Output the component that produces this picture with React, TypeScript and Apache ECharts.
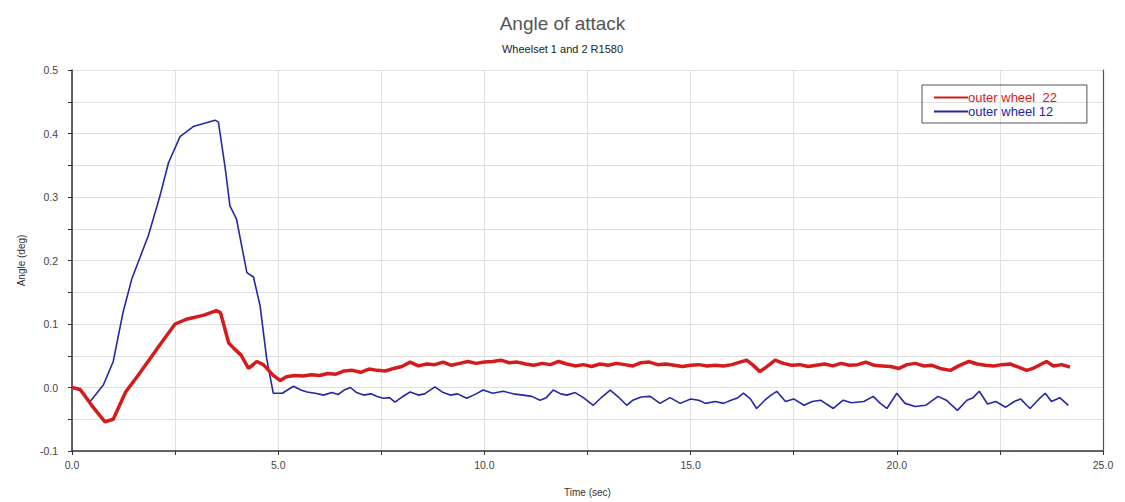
import React, { useEffect, useRef } from "react";
import * as echarts from "echarts";

// Outer wheel 22 — time (s) and angle of attack (deg)
const wheel22Time = [
  0, 0.2, 0.5, 0.8, 1.0, 1.3, 1.6, 1.9, 2.15, 2.5, 2.8, 3.2, 3.5, 3.6, 3.8, 3.92, 4.1, 4.28, 4.48, 4.64,
  4.88, 5.05, 5.2, 5.4, 5.6, 5.8, 6.0, 6.2, 6.4, 6.6, 6.8, 7.0, 7.2, 7.4, 7.6, 7.8, 8.0, 8.2, 8.4, 8.6,
  8.8, 9.0, 9.2, 9.4, 9.6, 9.8, 10.0, 10.2, 10.4, 10.6, 10.8, 11.0, 11.2, 11.4, 11.6, 11.8, 12.0, 12.2,
  12.4, 12.6, 12.8, 13.0, 13.2, 13.4, 13.6, 13.8, 14.0, 14.2, 14.4, 14.6, 14.8, 15.0, 15.2, 15.4, 15.6,
  15.8, 16.0, 16.2, 16.36, 16.5, 16.68, 16.85, 17.05, 17.25, 17.45, 17.65, 17.85, 18.05, 18.25, 18.45,
  18.65, 18.85, 19.05, 19.25, 19.45, 19.65, 19.85, 20.05, 20.25, 20.45, 20.65, 20.85, 21.05, 21.3, 21.5,
  21.75, 21.95, 22.15, 22.35, 22.55, 22.75, 22.95, 23.15, 23.3, 23.45, 23.63, 23.8, 24.0, 24.2,
];
const wheel22Angle = [
  0.0, -0.003, -0.03, -0.054, -0.05, -0.007, 0.019, 0.046, 0.069, 0.1, 0.108, 0.114, 0.121, 0.118, 0.07,
  0.062, 0.051, 0.03, 0.041, 0.036, 0.019, 0.011, 0.017, 0.019, 0.018, 0.02, 0.019, 0.022, 0.021, 0.026,
  0.027, 0.024, 0.029, 0.027, 0.026, 0.03, 0.033, 0.04, 0.034, 0.037, 0.036, 0.04, 0.035, 0.038, 0.041,
  0.038, 0.04, 0.041, 0.043, 0.039, 0.04, 0.037, 0.035, 0.038, 0.036, 0.041, 0.037, 0.034, 0.036, 0.033,
  0.037, 0.035, 0.038, 0.036, 0.034, 0.039, 0.04, 0.036, 0.037, 0.035, 0.033, 0.035, 0.036, 0.034, 0.035,
  0.034, 0.036, 0.04, 0.043, 0.036, 0.025, 0.033, 0.043, 0.038, 0.035, 0.036, 0.033, 0.035, 0.037, 0.034,
  0.038, 0.035, 0.036, 0.04, 0.035, 0.034, 0.033, 0.03, 0.036, 0.038, 0.034, 0.035, 0.03, 0.027, 0.034,
  0.041, 0.037, 0.035, 0.034, 0.036, 0.037, 0.032, 0.027, 0.03, 0.035, 0.041, 0.034, 0.036, 0.032,
];

// Outer wheel 12 — time (s) and angle of attack (deg)
const wheel12Time = [
  0, 0.2, 0.44, 0.76, 1.0, 1.24, 1.45, 1.85, 2.13, 2.34, 2.62, 2.94, 3.47, 3.55, 3.71, 3.83, 3.99, 4.24,
  4.4, 4.56, 4.72, 4.88, 5.1, 5.37, 5.55, 5.7, 5.9, 6.1, 6.3, 6.45, 6.6, 6.75, 6.9, 7.07, 7.25, 7.4, 7.55,
  7.7, 7.83, 8.0, 8.2, 8.4, 8.55, 8.8, 9.0, 9.17, 9.35, 9.57, 9.8, 9.97, 10.2, 10.46, 10.7, 10.94, 11.15,
  11.35, 11.5, 11.67, 11.85, 12.0, 12.2, 12.4, 12.64, 12.85, 13.05, 13.25, 13.45, 13.6, 13.8, 14.02,
  14.26, 14.5, 14.75, 15.0, 15.2, 15.36, 15.6, 15.8, 15.98, 16.15, 16.28, 16.45, 16.6, 16.8, 16.95,
  17.09, 17.3, 17.5, 17.75, 17.95, 18.15, 18.46, 18.7, 18.9, 19.2, 19.43, 19.6, 19.76, 20.0, 20.2, 20.45,
  20.7, 21.0, 21.2, 21.47, 21.7, 21.85, 22.0, 22.2, 22.4, 22.64, 22.85, 23.0, 23.23, 23.45, 23.6, 23.75,
  23.95, 24.16,
];
const wheel12Angle = [
  0.0, -0.005, -0.022, 0.004, 0.041, 0.119, 0.171, 0.239, 0.301, 0.354, 0.395, 0.411, 0.421, 0.418,
  0.348, 0.286, 0.265, 0.181, 0.174, 0.129, 0.046, -0.009, -0.009, 0.002, -0.004, -0.007, -0.009, -0.012,
  -0.008, -0.011, -0.004, 0.0, -0.008, -0.012, -0.01, -0.014, -0.017, -0.016, -0.023, -0.015, -0.007,
  -0.012, -0.01, 0.001, -0.008, -0.012, -0.01, -0.017, -0.01, -0.004, -0.009, -0.006, -0.01, -0.012,
  -0.014, -0.02, -0.016, -0.004, -0.01, -0.012, -0.008, -0.016, -0.028, -0.015, -0.004, -0.015, -0.028,
  -0.02, -0.015, -0.014, -0.025, -0.016, -0.025, -0.018, -0.02, -0.025, -0.022, -0.025, -0.02, -0.016,
  -0.009, -0.018, -0.033, -0.02, -0.012, -0.006, -0.022, -0.018, -0.028, -0.022, -0.02, -0.033, -0.02,
  -0.024, -0.022, -0.014, -0.025, -0.033, -0.009, -0.025, -0.03, -0.028, -0.014, -0.02, -0.036, -0.02,
  -0.016, -0.006, -0.026, -0.022, -0.031, -0.022, -0.018, -0.033, -0.018, -0.009, -0.022, -0.016, -0.028,
];

const seriesNames = ["outer wheel  22", "outer wheel 12"];
const seriesColors = ["#d41c1c", "#2626a6"];

const zip = (t: number[], v: number[]) => t.map((x, i) => [x, v[i]]);

const FONT = "'Liberation Sans', Arial, sans-serif";

export default function App() {
  const ref = useRef<HTMLDivElement>(null);

  useEffect(() => {
    if (!ref.current) return;
    const chart = echarts.init(ref.current, undefined, { renderer: "svg" });
    chart.setOption({
      animation: false,
      backgroundColor: "#ffffff",
      textStyle: { fontFamily: FONT },
      title: {
        text: "Angle of attack",
        subtext: "Wheelset 1 and 2 R1580",
        left: "center",
        top: 9,
        itemGap: 10,
        textStyle: { fontSize: 19, fontWeight: "normal", color: "#555555", fontFamily: FONT },
        subtextStyle: { fontSize: 11, color: "#222222", fontFamily: FONT },
      },
      legend: {
        orient: "vertical",
        left: 922,
        top: 85,
        padding: [6, 30, 5, 12],
        itemGap: 1,
        itemWidth: 34,
        itemHeight: 2,
        icon: "rect",
        borderColor: "#555555",
        borderWidth: 1,
        data: [
          { name: seriesNames[0], textStyle: { color: seriesColors[0] } },
          { name: seriesNames[1], textStyle: { color: seriesColors[1] } },
        ],
        textStyle: { fontSize: 13, fontFamily: FONT, padding: [0, 0, 0, -5] },
      },
      grid: { left: 72, right: 22, top: 70, bottom: 49 },
      xAxis: {
        type: "value",
        min: 0,
        max: 25,
        interval: 2.5,
        name: "Time (sec)",
        nameLocation: "middle",
        nameGap: 36,
        nameTextStyle: { fontSize: 10, color: "#333333" },
        axisLine: { onZero: false, lineStyle: { color: "#333333", width: 1.5 } },
        axisTick: { show: true, length: 4, lineStyle: { color: "#333333" } },
        axisLabel: {
          fontSize: 10.5,
          color: "#444444",
          margin: 8,
          formatter: (v: number) => (Math.abs(v % 5) < 1e-9 ? v.toFixed(1) : ""),
        },
        splitLine: { show: true, lineStyle: { color: "#e0e0e0", width: 1 } },
      },
      yAxis: [
        {
          type: "value",
          min: -0.1,
          max: 0.5,
          interval: 0.05,
          name: "Angle (deg)",
          nameLocation: "middle",
          nameGap: 46,
          nameTextStyle: { fontSize: 10, color: "#333333" },
          axisLine: { show: true, onZero: false, lineStyle: { color: "#333333", width: 1.5 } },
          axisTick: { show: true, length: 4, lineStyle: { color: "#333333" } },
          axisLabel: {
            fontSize: 10.5,
            color: "#444444",
            margin: 14,
            formatter: (v: number) => {
              const k = v * 10;
              return Math.abs(k - Math.round(k)) < 1e-6 ? v.toFixed(1) : "";
            },
          },
          splitLine: { show: true, lineStyle: { color: "#e0e0e0", width: 1 } },
        },
        {
          type: "value",
          min: -0.1,
          max: 0.5,
          position: "right",
          axisLine: { show: true, onZero: false, lineStyle: { color: "#555555", width: 1.2 } },
          axisTick: { show: false },
          axisLabel: { show: false },
          splitLine: { show: false },
        },
      ],
      series: [
        {
          name: seriesNames[0],
          type: "line",
          data: zip(wheel22Time, wheel22Angle),
          showSymbol: false,
          z: 3,
          color: seriesColors[0],
          lineStyle: { color: seriesColors[0], width: 3.5 },
        },
        {
          name: seriesNames[1],
          type: "line",
          data: zip(wheel12Time, wheel12Angle),
          showSymbol: false,
          z: 2,
          color: seriesColors[1],
          lineStyle: { color: seriesColors[1], width: 1.6 },
        },
      ],
    });
    return () => chart.dispose();
  }, []);

  return (
    <div
      ref={ref}
      style={{ position: "fixed", left: 0, top: 0, width: 1125, height: 502 }}
    />
  );
}
